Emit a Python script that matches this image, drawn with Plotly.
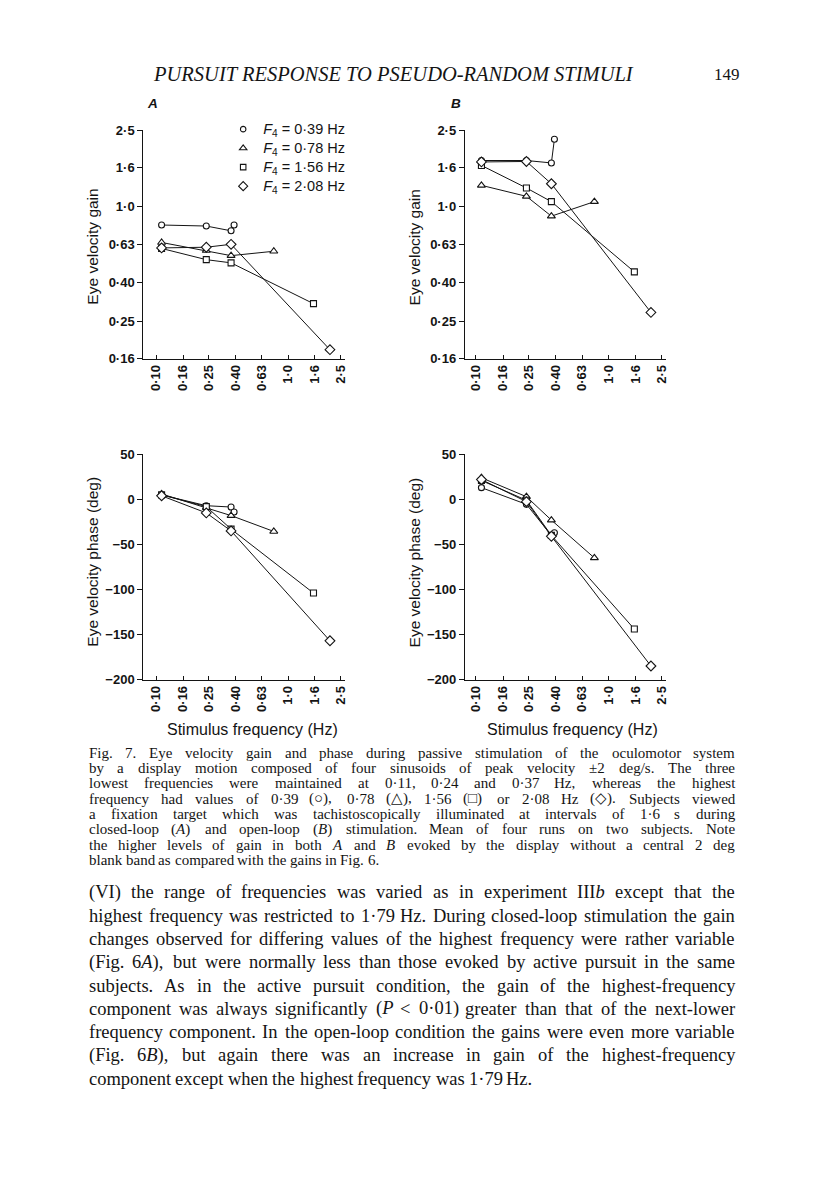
import math
import plotly.graph_objects as go

# ---------------------------------------------------------------- data
FREQ_TICKS = [0.10, 0.16, 0.25, 0.40, 0.63, 1.0, 1.6, 2.5]
FREQ_TICK_LABELS = ["0·10", "0·16", "0·25", "0·40", "0·63", "1·0", "1·6", "2·5"]
GAIN_TICKS = [0.16, 0.25, 0.40, 0.63, 1.0, 1.6, 2.5]
GAIN_TICK_LABELS = ["0·16", "0·25", "0·40", "0·63", "1·0", "1·6", "2·5"]
PHASE_TICKS = [-200, -150, -100, -50, 0, 50]
PHASE_TICK_LABELS = ["−200", "−150", "−100", "−50", "0", "50"]

LOW_FREQS = [0.11, 0.24, 0.37]            # three lowest stimulus frequencies (Hz)
HIGH_FREQS = [0.39, 0.78, 1.56, 2.08]     # highest frequency F4 (Hz)
SERIES_LABELS = ["<i>F</i><sub>4</sub> = 0·39 Hz",
                 "<i>F</i><sub>4</sub> = 0·78 Hz",
                 "<i>F</i><sub>4</sub> = 1·56 Hz",
                 "<i>F</i><sub>4</sub> = 2·08 Hz"]

# A: closed-loop gain
gain_closed_f039 = [0.80, 0.79, 0.746, 0.80]
gain_closed_f078 = [0.648, 0.588, 0.553, 0.583]
gain_closed_f156 = [0.603, 0.527, 0.507, 0.31]
gain_closed_f208 = [0.607, 0.612, 0.634, 0.178]
# B: open-loop gain
gain_open_f039 = [1.74, 1.74, 1.69, 2.25]
gain_open_f078 = [1.29, 1.13, 0.89, 1.06]
gain_open_f156 = [1.64, 1.25, 1.06, 0.455]
gain_open_f208 = [1.71, 1.72, 1.315, 0.279]
# A: closed-loop phase (deg)
phase_closed_f039 = [5, -7, -8.5, -14]
phase_closed_f078 = [6, -9, -18, -35.6]
phase_closed_f156 = [5, -8, -33, -104]
phase_closed_f208 = [4, -15, -35, -157]
# B: open-loop phase (deg)
phase_open_f039 = [13, -5.5, -40, -37]
phase_open_f078 = [24, 3, -23, -65]
phase_open_f156 = [21, -1, -40, -144]
phase_open_f208 = [22, -2.5, -41, -185]

HEADER = "PURSUIT RESPONSE TO PSEUDO-RANDOM STIMULI"
PAGE_NO = "149"
CAPTION_LINES = [
    "Fig. 7. Eye velocity gain and phase during passive stimulation of the oculomotor system",
    "by a display motion composed of four sinusoids of peak velocity ±2 deg/s. The three",
    "lowest frequencies were maintained at 0·11, 0·24 and 0·37 Hz, whereas the highest",
    "frequency had values of 0·39 (○), 0·78 (△), 1·56 (□) or 2·08 Hz (◇). Subjects viewed",
    "a fixation target which was tachistoscopically illuminated at intervals of 1·6 s during",
    "closed-loop (_A_) and open-loop (_B_) stimulation. Mean of four runs on two subjects. Note",
    "the higher levels of gain in both _A_ and _B_ evoked by the display without a central 2 deg",
    "blank band as compared with the gains in Fig. 6.",
]
BODY_LINES = [
    "(VI) the range of frequencies was varied as in experiment III_b_ except that the",
    "highest frequency was restricted to 1·79 Hz. During closed-loop stimulation the gain",
    "changes observed for differing values of the highest frequency were rather variable",
    "(Fig. 6_A_), but were normally less than those evoked by active pursuit in the same",
    "subjects. As in the active pursuit condition, the gain of the highest-frequency",
    "component was always significantly (_P_ < 0·01) greater than that of the next-lower",
    "frequency component. In the open-loop condition the gains were even more variable",
    "(Fig. 6_B_), but again there was an increase in gain of the highest-frequency",
    "component except when the highest frequency was 1·79 Hz.",
]

# ---------------------------------------------------------------- styles / geometry
W, H = 816, 1203
INK = "#141414"
SYMBOLS = ["circle", "triangle-up", "square", "diamond"]
SIZES = [6, 7, 6, 7.5]
SANS = "Liberation Sans, Arial, sans-serif"
SERIF = "Liberation Serif, Times New Roman, serif"


def px_x(v):
    return v / W


def px_y(v):
    return 1 - v / H


# pixel geometry of the four panels
XA = (144.0, 346.0)
XB = (466.7, 668.0)
Y_GAIN = (125.0, 356.0)
Y_PHASE = (453.0, 681.0)

fig = go.Figure()

panels = [
    ("x", "y", [gain_closed_f039, gain_closed_f078, gain_closed_f156, gain_closed_f208]),
    ("x2", "y2", [gain_open_f039, gain_open_f078, gain_open_f156, gain_open_f208]),
    ("x3", "y3", [phase_closed_f039, phase_closed_f078, phase_closed_f156, phase_closed_f208]),
    ("x4", "y4", [phase_open_f039, phase_open_f078, phase_open_f156, phase_open_f208]),
]
for xa, ya, series in panels:
    for i, vals in enumerate(series):
        fig.add_trace(go.Scatter(
            x=LOW_FREQS + [HIGH_FREQS[i]], y=vals, xaxis=xa, yaxis=ya,
            mode="lines+markers", showlegend=False, hoverinfo="skip",
            line=dict(color=INK, width=1),
            marker=dict(symbol=SYMBOLS[i], size=SIZES[i], color="white",
                        line=dict(color=INK, width=1.1)),
        ))

# legend-only entries (markers only)
for i, name in enumerate(SERIES_LABELS):
    fig.add_trace(go.Scatter(
        x=[None], y=[None], xaxis="x", yaxis="y", mode="markers",
        name='<span style="font-size:14.5px">' + name + "</span>",
        marker=dict(symbol=SYMBOLS[i], size=SIZES[i] - 0.5, color="white",
                    line=dict(color=INK, width=1.1)),
    ))

tickfont = dict(family=SANS, size=13, color=INK, weight="bold")


def xaxis_cfg(dom, anchor, rng):
    return dict(domain=[px_x(dom[0]), px_x(dom[1])], anchor=anchor, type="log",
                range=rng, tickvals=FREQ_TICKS, ticktext=FREQ_TICK_LABELS,
                tickangle=-90, ticks="inside", ticklen=4, tickwidth=1, tickcolor=INK,
                showline=True, linecolor=INK, linewidth=1.2, showgrid=False,
                zeroline=False, tickfont=tickfont, fixedrange=True)


def yaxis_cfg(dom, anchor, log):
    d = dict(domain=[px_y(dom[1]), px_y(dom[0])], anchor=anchor,
             ticks="outside", ticklen=5, tickwidth=1, tickcolor=INK,
             showline=True, linecolor=INK, linewidth=1.2, showgrid=False,
             zeroline=False, tickfont=tickfont, fixedrange=True)
    if log:
        d.update(type="log", range=[math.log10(0.16), math.log10(2.5)],
                 tickvals=GAIN_TICKS, ticktext=GAIN_TICK_LABELS)
    else:
        d.update(range=[-200, 50], tickvals=PHASE_TICKS, ticktext=PHASE_TICK_LABELS)
    return d


RNG_A = [-1.096, 0.430]
RNG_B = [-1.0825, 0.428]

fig.update_layout(
    width=W, height=H, autosize=False,
    margin=dict(l=0, r=0, t=0, b=0),
    paper_bgcolor="white", plot_bgcolor="white",
    xaxis=xaxis_cfg(XA, "y", RNG_A),
    xaxis2=xaxis_cfg(XB, "y2", RNG_B),
    xaxis3=xaxis_cfg(XA, "y3", RNG_A),
    xaxis4=xaxis_cfg(XB, "y4", RNG_B),
    yaxis=yaxis_cfg(Y_GAIN, "x", True),
    yaxis2=yaxis_cfg(Y_GAIN, "x2", True),
    yaxis3=yaxis_cfg(Y_PHASE, "x3", False),
    yaxis4=yaxis_cfg(Y_PHASE, "x4", False),
    legend=dict(x=px_x(224), y=px_y(109), xanchor="left", yanchor="top",
                font=dict(family=SANS, size=12, color=INK),
                bgcolor="rgba(0,0,0,0)", itemwidth=30, tracegroupgap=0),
    showlegend=True,
)

ann = []


def add_text(x, y, text, size, family=SANS, xanchor="center", angle=0, **font_kw):
    ann.append(dict(x=px_x(x), y=px_y(y), xref="paper", yref="paper", text=text,
                    showarrow=False, xanchor=xanchor, yanchor="middle",
                    textangle=angle, borderpad=0, borderwidth=0,
                    font=dict(family=family, size=size, color=INK, **font_kw)))


# header
add_text(395, 68, "<i>" + HEADER + "</i>", 20.5, family=SERIF)
add_text(743, 68, PAGE_NO, 17, family=SERIF, xanchor="right")
# panel letters
add_text(153, 98, "<i>A</i>", 13.5, weight="bold")
add_text(458, 98, "<i>B</i>", 13.5, weight="bold")
# axis titles
add_text(93, 243, "Eye velocity gain", 15.5, angle=-90)
add_text(417, 243, "Eye velocity gain", 15.5, angle=-90)
add_text(93, 562, "Eye velocity phase (deg)", 15.5, angle=-90)
add_text(417, 562, "Eye velocity phase (deg)", 15.5, angle=-90)
add_text(253, 732, "Stimulus frequency (Hz)", 16)
add_text(575, 732, "Stimulus frequency (Hz)", 16)

# ---------------------------------------------------------------- justified serif text
TIMES = {" ": 250, "(": 333, ")": 333, ",": 250, "-": 333, ".": 250, "/": 278,
         ":": 278, ";": 278, "<": 564, "=": 564, "±": 564, "·": 250, "−": 564,
         "○": 800, "△": 800, "□": 800, "◇": 800,
         "A": 722, "B": 667, "C": 667, "D": 722, "E": 611, "F": 556, "G": 722,
         "H": 722, "I": 333, "J": 389, "K": 722, "L": 611, "M": 889, "N": 722,
         "O": 722, "P": 556, "Q": 722, "R": 667, "S": 556, "T": 611, "U": 722,
         "V": 722, "W": 944, "X": 722, "Y": 722, "Z": 611,
         "a": 444, "b": 500, "c": 444, "d": 500, "e": 444, "f": 333, "g": 500,
         "h": 500, "i": 278, "j": 278, "k": 500, "l": 278, "m": 778, "n": 500,
         "o": 500, "p": 500, "q": 500, "r": 333, "s": 389, "t": 278, "u": 500,
         "v": 500, "w": 722, "x": 500, "y": 500, "z": 444}


def word_width(word, size):
    return sum(TIMES.get(ch, 500) for ch in word.replace("_", "")) / 1000.0 * size


def word_html(word):
    out, ital = "", False
    for ch in word:
        if ch == "_":
            out += "</i>" if ital else "<i>"
            ital = not ital
        elif ch == "<":
            out += "&lt;"
        else:
            out += ch
    return out


def set_block(lines, y0, dy, size, left=89.0, right=737.5):
    width = right - left
    longest = max(sum(word_width(w, 1) for w in ln.split(" ")) + 0.25 * (len(ln.split(" ")) - 1)
                  for ln in lines)
    size = min(size, 0.995 * width / longest)
    for k, ln in enumerate(lines):
        words = ln.split(" ")
        ws = [word_width(w, size) for w in words]
        last = k == len(lines) - 1
        if last or len(words) < 2:
            gap = 0.25 * size
        else:
            gap = (width - sum(ws)) / (len(words) - 1)
        x = left
        for w, wd in zip(words, ws):
            add_text(x, y0 + k * dy, word_html(w), size, family=SERIF, xanchor="left")
            x += wd + gap


set_block(CAPTION_LINES, 755.0, 15.55, 15)
set_block(BODY_LINES, 896.5, 23.6, 18.5)

fig.update_layout(annotations=ann)
fig.write_html("out.html", config={"staticPlot": True},
               post_script="document.body.style.margin='0px';"
                           "document.body.style.overflow='hidden';")
